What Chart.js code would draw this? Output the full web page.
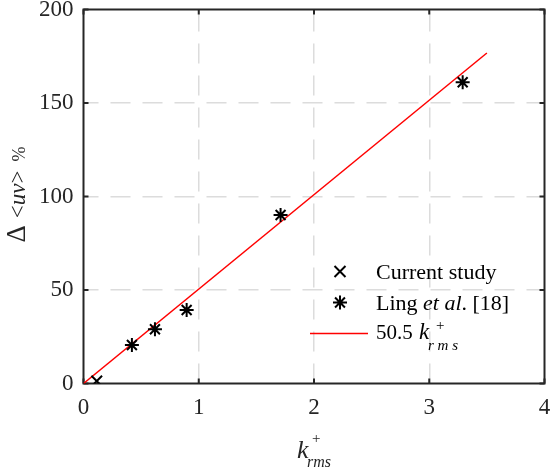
<!DOCTYPE html>
<html>
<head>
<meta charset="utf-8">
<script src="https://cdn.jsdelivr.net/npm/chart.js@4/dist/chart.umd.min.js"></script>
<style>
  html, body { margin: 0; padding: 0; background: #ffffff; }
  #wrap { width: 550px; height: 471px; position: relative; }
</style>
</head>
<body>
<div id="wrap"><canvas id="chart" width="550" height="471"></canvas></div>
<script>
// Roughness data: Reynolds shear stress increase vs. rms roughness height
const currentK   = [0.115];
const currentDuv = [1.3];
const lingK      = [0.42, 0.62, 0.895, 1.71, 3.29];
const lingDuv    = [20.6, 29.0, 39.3, 90.1, 161.1];
const fitSlope   = 50.5;
const fitK       = [0, 3.5];
const xTicks     = [0, 1, 2, 3, 4];
const yTicks     = [0, 50, 100, 150, 200];

const SERIF = '"Liberation Serif", "Times New Roman", serif';
const AXIS_COLOR = '#262626';
const GRID_COLOR = '#dcdcdc';
const PLOT_RIGHT = 544.5;

const toPoints = (xs, ys) => xs.map((x, i) => ({ x: x, y: ys[i] }));

// Draws a sequence of text runs (each with its own font)
function drawRuns(ctx, runs, x, y) {
  let cx = x;
  for (const r of runs) {
    ctx.font = r.font;
    ctx.fillText(r.text, cx, y + (r.dy || 0));
    cx += ctx.measureText(r.text).width + (r.gap || 0);
  }
  return cx - x;
}
function runsWidth(ctx, runs) {
  let w = 0;
  for (const r of runs) {
    ctx.font = r.font;
    w += ctx.measureText(r.text).width + (r.gap || 0);
  }
  return w;
}

// Keep the plot box's right edge fixed, regardless of tick-label overhang
const areaPlugin = {
  id: 'area',
  afterLayout(chart) {
    const a = chart.chartArea;
    const x = chart.scales.x;
    a.right = PLOT_RIGHT;
    a.width = a.right - a.left;
    x.right = PLOT_RIGHT;
    x.width = x.right - x.left;
    x.configure();
  }
};

// Axis box with inward tick marks
const boxPlugin = {
  id: 'box',
  beforeDatasetsDraw(chart) {
    const { ctx, chartArea: a, scales: { x, y } } = chart;
    ctx.save();
    ctx.strokeStyle = AXIS_COLOR;
    ctx.lineWidth = 2;
    const tl = 5;
    ctx.beginPath();
    for (const v of xTicks) {
      const px = x.getPixelForValue(v);
      ctx.moveTo(px, a.bottom); ctx.lineTo(px, a.bottom - tl);
      ctx.moveTo(px, a.top); ctx.lineTo(px, a.top + tl);
    }
    for (const v of yTicks) {
      const py = y.getPixelForValue(v);
      ctx.moveTo(a.left, py); ctx.lineTo(a.left + tl, py);
      ctx.moveTo(a.right, py); ctx.lineTo(a.right - tl, py);
    }
    ctx.stroke();
    ctx.strokeRect(a.left, a.top, a.right - a.left, a.bottom - a.top);
    ctx.restore();
  }
};

// Axis titles and the in-plot legend
const labelPlugin = {
  id: 'labels',
  afterDraw(chart) {
    const { ctx, chartArea: a } = chart;
    ctx.save();
    ctx.fillStyle = AXIS_COLOR;
    ctx.textBaseline = 'alphabetic';
    ctx.textAlign = 'left';

    // x-axis title: k+_rms
    const kx = 297, kb = 458;
    ctx.font = 'italic 26px ' + SERIF;
    ctx.fillText('k', kx, kb);
    ctx.font = '15px ' + SERIF;
    ctx.fillText('+', kx + 15, kb - 15);
    ctx.font = 'italic 16px ' + SERIF;
    ctx.fillText('rms', kx + 10, kb + 9);

    // y-axis title: Δ <uv> %
    const yRuns = [
      { text: 'Δ', font: '27px ' + SERIF, gap: 7 },
      { text: '<', font: '23px ' + SERIF },
      { text: 'uv', font: 'italic 23px ' + SERIF },
      { text: '>', font: '23px ' + SERIF, gap: 9 },
      { text: '%', font: '18px ' + SERIF }
    ];
    const cy = (a.top + a.bottom) / 2 - 2;
    ctx.save();
    ctx.translate(25, cy);
    ctx.rotate(-Math.PI / 2);
    const w = runsWidth(ctx, yRuns);
    drawRuns(ctx, yRuns, -w / 2, 0);
    ctx.restore();

    // legend
    const mx = 340, tx = 376;
    const rows = [271.5, 302.5, 333.5];
    ctx.strokeStyle = '#000000';
    ctx.lineWidth = 2;
    // cross marker
    let r = 5.5;
    ctx.beginPath();
    ctx.moveTo(mx - r, rows[0] - r); ctx.lineTo(mx + r, rows[0] + r);
    ctx.moveTo(mx - r, rows[0] + r); ctx.lineTo(mx + r, rows[0] - r);
    ctx.stroke();
    // star marker
    r = 7;
    ctx.beginPath();
    ctx.moveTo(mx, rows[1] - r); ctx.lineTo(mx, rows[1] + r);
    ctx.moveTo(mx - r, rows[1]); ctx.lineTo(mx + r, rows[1]);
    const d = r * Math.SQRT1_2;
    ctx.moveTo(mx - d, rows[1] - d); ctx.lineTo(mx + d, rows[1] + d);
    ctx.moveTo(mx - d, rows[1] + d); ctx.lineTo(mx + d, rows[1] - d);
    ctx.stroke();
    // fit line
    ctx.strokeStyle = '#ff0000';
    ctx.lineWidth = 1.5;
    ctx.beginPath();
    ctx.moveTo(310, rows[2]); ctx.lineTo(368, rows[2]);
    ctx.stroke();

    ctx.fillStyle = '#000000';
    const f = '22px ' + SERIF, fi = 'italic 22px ' + SERIF;
    drawRuns(ctx, [{ text: 'Current study', font: f }], tx, rows[0] + 7);
    drawRuns(ctx, [
      { text: 'Ling ', font: f },
      { text: 'et al', font: fi },
      { text: '. [18]', font: f }
    ], tx, rows[1] + 7);
    drawRuns(ctx, [{ text: fitSlope.toFixed(1), font: '21px ' + SERIF }], tx, rows[2] + 5);
    ctx.font = 'italic 23px ' + SERIF;
    ctx.fillText('k', 419, rows[2] + 5);
    ctx.font = '15px ' + SERIF;
    ctx.fillText('+', 436, rows[2] - 4);
    ctx.font = 'italic 15px ' + SERIF;
    ctx.fillText('r m s', 428, rows[2] + 16);
    ctx.restore();
  }
};

const tickFont = { family: SERIF, size: 23 };

new Chart(document.getElementById('chart'), {
  type: 'scatter',
  data: {
    datasets: [
      {
        label: 'Current study',
        data: toPoints(currentK, currentDuv),
        pointStyle: 'crossRot',
        pointRadius: 7.5,
        borderColor: '#000000',
        backgroundColor: '#000000',
        pointBorderWidth: 2,
        showLine: false
      },
      {
        label: 'Ling et al. [18]',
        data: toPoints(lingK, lingDuv),
        pointStyle: 'star',
        pointRadius: 7,
        borderColor: '#000000',
        backgroundColor: '#000000',
        pointBorderWidth: 2,
        showLine: false
      },
      {
        label: fitSlope + ' k+rms',
        data: toPoints(fitK, fitK.map(k => fitSlope * k)),
        showLine: true,
        borderColor: '#ff0000',
        borderWidth: 1.5,
        pointRadius: 0,
        fill: false,
        order: 5
      }
    ]
  },
  options: {
    responsive: false,
    animation: false,
    layout: { padding: { left: 0, top: 9, right: 5.5, bottom: 0 } },
    plugins: { legend: { display: false }, tooltip: { enabled: false } },
    scales: {
      x: {
        type: 'linear',
        min: 0, max: 4,
        afterBuildTicks: (s) => { s.ticks = xTicks.map(v => ({ value: v })); },
        ticks: { font: tickFont, color: AXIS_COLOR, padding: 11, maxRotation: 0 },
        grid: { color: (c) => (c.tick && (c.tick.value === 0 || c.tick.value === 4)) ? 'rgba(0,0,0,0)' : GRID_COLOR,
                lineWidth: 1.5, drawTicks: false },
        border: { display: false, dash: [20, 12], dashOffset: 30 },
        afterFit: (s) => { s.height = 87.5; s.paddingLeft = 0; s.paddingRight = 0; s.paddingTop = 0; s.paddingBottom = 0; }
      },
      y: {
        type: 'linear',
        min: 0, max: 200,
        afterBuildTicks: (s) => { s.ticks = yTicks.map(v => ({ value: v })); },
        ticks: { font: tickFont, color: AXIS_COLOR, padding: 10 },
        grid: { color: (c) => (c.tick && (c.tick.value === 0 || c.tick.value === 200)) ? 'rgba(0,0,0,0)' : GRID_COLOR,
                lineWidth: 1.5, drawTicks: false },
        border: { display: false, dash: [20, 12], dashOffset: 5.5 },
        afterFit: (s) => { s.width = 83.5; s.paddingLeft = 0; s.paddingRight = 0; s.paddingTop = 0; s.paddingBottom = 0; }
      }
    }
  },
  plugins: [areaPlugin, boxPlugin, labelPlugin]
});
</script>
</body>
</html>
